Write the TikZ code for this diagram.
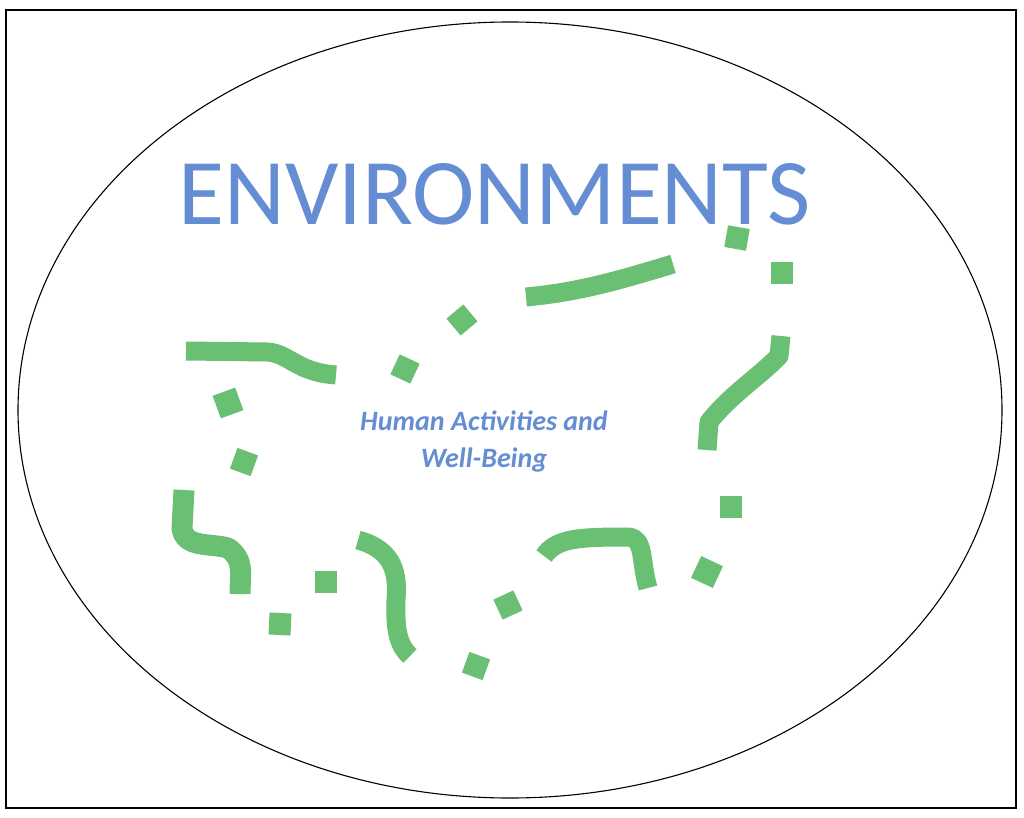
\documentclass[tikz,border=0pt]{standalone}
\usepackage{fontspec}
\setmainfont{Carlito}
\definecolor{envgreen}{RGB}{106,192,114}
\definecolor{envblue}{RGB}{101,141,212}
\begin{document}
\begin{tikzpicture}[x=1pt,y=-1pt,
  band/.style={draw=envgreen,line width=19pt,line join=round},
  dab/.style={fill=envgreen}]
\useasboundingbox (0,0) rectangle (1024,818);
\fill[white] (0,0) rectangle (1024,818);
\draw[line width=1.6pt] (6,10) rectangle (1016,808);
\draw[line width=1.1pt] (510,410) ellipse (492 and 388);
% titles
\node[envblue,font=\fontsize{94}{100}\selectfont,anchor=base] (title) at (495,225) {ENVIRONMENTS};
\node[envblue,font=\fontsize{28}{37}\selectfont\bfseries\itshape,align=center,anchor=base] (human) at (484,467) {Human Activities and\\Well-Being};
% green bands
\draw[band] (186,351) -- (268,352) .. controls (290,354) and (296,372) .. (336,375);
\draw[band] (526,297) .. controls (580,292) and (620,280) .. (673,264);
\draw[band] (781,336) -- (779,356) .. controls (760,376) and (730,395) .. (709,422) -- (707,450);
\draw[band] (544,556) .. controls (556,538) and (580,537) .. (628,537) .. controls (645,538) and (640,560) .. (648,588);
\draw[band,line width=21pt] (184,490) -- (182,528) .. controls (184,548) and (210,543) .. (228,548) .. controls (245,560) and (240,575) .. (240,594);
\draw[band] (358,540) .. controls (395,550) and (398,575) .. (396,600) .. controls (395,630) and (398,645) .. (410,656);
% squares
\foreach \x/\y/\a/\s in {228/403/20/12, 244/462/-20/11, 405/369/-25/11, 462/320/40/11,
  737/238/-10/11, 782/273/0/11, 731/507/0/11, 707/572/-25/12, 508/605/25/11,
  476/666/-20/11, 280/624/-3/11, 326/582/0/11}
  \fill[dab,shift={(\x,\y)},rotate=\a] (-\s,-\s) rectangle (\s,\s);
\end{tikzpicture}
\end{document}
